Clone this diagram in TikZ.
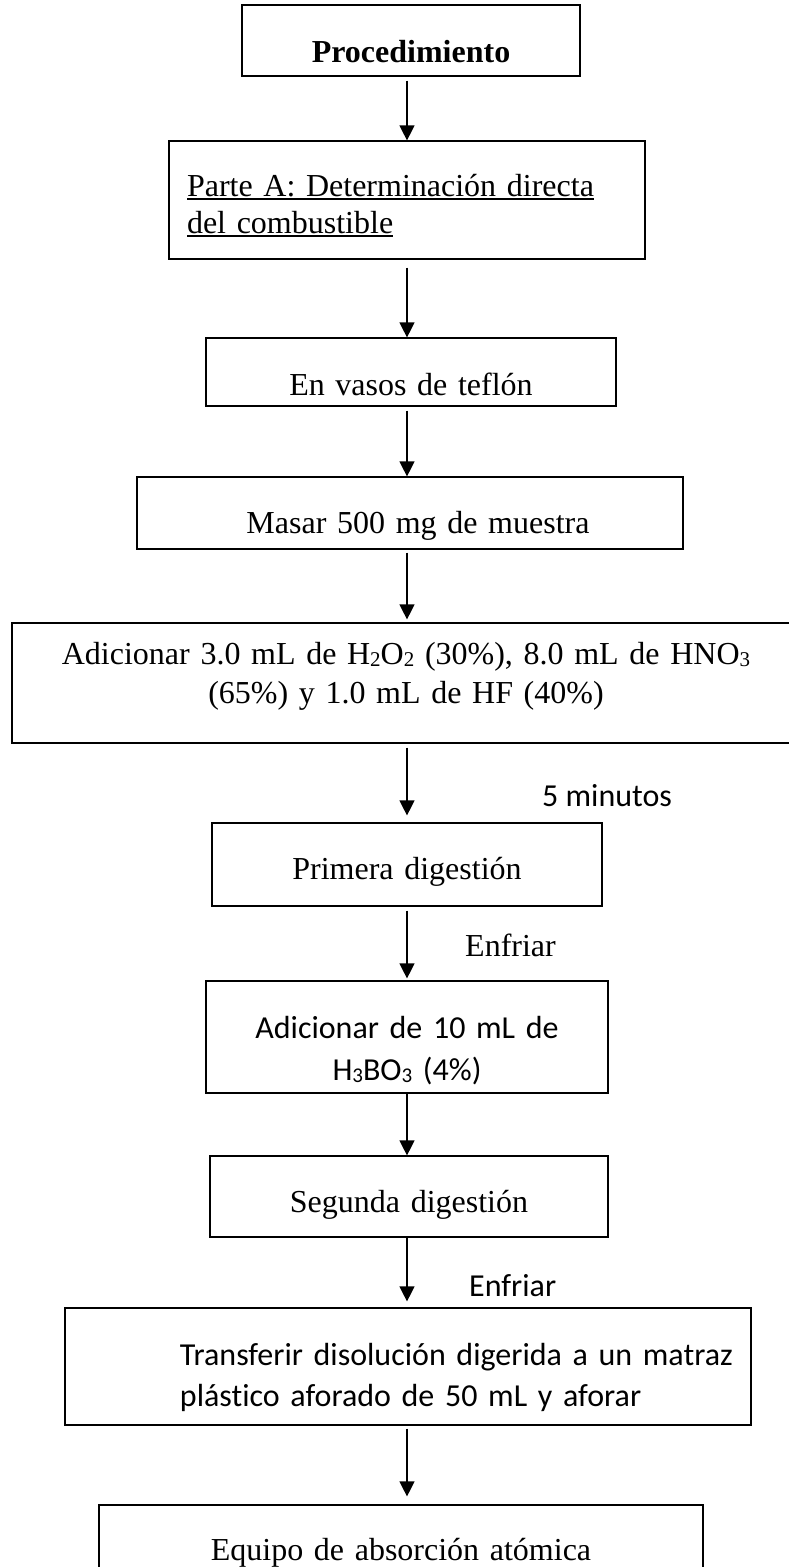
\documentclass[tikz,border=0pt]{standalone}
\usepackage{fontspec}
\setmainfont{Liberation Serif}
\newfontfamily\calibfont[Ligatures=NoCommon]{Carlito}
\usetikzlibrary{arrows.meta}
\newsavebox\ulbox
\newcommand{\myul}[1]{\sbox\ulbox{#1}\rlap{\rule[-4pt]{\wd\ulbox}{1.6pt}}\usebox\ulbox}
\newcommand{\sbs}[1]{\raisebox{-2.5pt}{\fontsize{21}{21}\selectfont #1}}
\begin{document}
\begin{tikzpicture}[x=1pt,y=-1pt,
  stepbox/.style={draw=black, line width=1.2pt, inner sep=0pt, align=center, anchor=base,
    font=\fontsize{32}{38}\selectfont},
  arr/.style={-{Triangle[width=15pt,length=15pt]}, line width=1.2pt},
  lbl/.style={inner sep=0pt, anchor=base west}]
\useasboundingbox (0,0) rectangle (788,1567);
\fill[white] (0,0) rectangle (788,1567);

\node[stepbox, text width=338pt, text height=57pt, text depth=14pt] (proc) at (411,62)
  {\textbf{Procedimiento}};
\node[stepbox, align=left, text width=476pt, text height=55pt, text depth=63pt,
  font=\fontsize{32}{37}\selectfont] (parteA) at (407,196)
  {\hspace*{18pt}\myul{Parte A: Determinación directa}\\\hspace*{18pt}\myul{del combustible}};
\node[stepbox, text width=410pt, text height=57pt, text depth=11pt] (vasos) at (411,395)
  {En vasos de teflón};
\node[stepbox, text width=546pt, text height=56pt, text depth=16pt] (masar) at (410,533)
  {\hspace*{16pt}Masar 500 mg de muestra};
\node[stepbox, text width=788pt, text height=41pt, text depth=79pt,
  font=\fontsize{32}{39}\selectfont] (adic) at (406,664)
  {Adicionar 3.0 mL de H\sbs{2}O\sbs{2} (30\%), 8.0 mL de HNO\sbs{3}\\(65\%) y 1.0 mL de HF (40\%)};
\node[stepbox, text width=390pt, text height=56pt, text depth=27pt] (prim) at (407,879)
  {Primera digestión};
\node[stepbox, text width=402pt, text height=57pt, text depth=55pt,
  font=\calibfont\fontsize{32}{42}\selectfont] (boric) at (407,1038)
  {Adicionar de 10 mL de\\H\sbs{3}BO\sbs{3} (4\%)};
\node[stepbox, text width=398pt, text height=56pt, text depth=25pt] (seg) at (409,1212)
  {Segunda digestión};
\node[stepbox, align=left, text width=686pt, text height=57pt, text depth=60pt,
  font=\calibfont\fontsize{32}{41}\selectfont] (transf) at (408,1365)
  {\hspace*{115pt}Transferir disolución digerida a un matraz\\\hspace*{115pt}plástico aforado de 50 mL y aforar};
\node[stepbox, text width=604pt, text height=55pt, text depth=50pt] (equipo) at (401,1560)
  {Equipo de absorción atómica};

\node[lbl, font=\calibfont\fontsize{32}{38}\selectfont] (cinco) at (542,806) {5 minutos};
\node[lbl, font=\fontsize{32}{38}\selectfont] (enf1) at (465,956) {Enfriar};
\node[lbl, font=\calibfont\fontsize{32}{38}\selectfont] (enf2) at (469,1296) {Enfriar};

\coordinate (col) at (407,0);
\draw[arr, shorten <=4pt] (proc.south -| col) -- (parteA.north -| col);
\draw[arr, shorten <=8pt] (parteA.south -| col) -- (vasos.north -| col);
\draw[arr, shorten <=4pt] (vasos.south -| col) -- (masar.north -| col);
\draw[arr, shorten <=3pt, shorten >=3pt] (masar.south -| col) -- (adic.north -| col);
\draw[arr, shorten <=4pt, shorten >=7pt] (adic.south -| col) -- (prim.north -| col);
\draw[arr, shorten <=4pt, shorten >=2pt] (prim.south -| col) -- (boric.north -| col);
\draw[arr] (boric.south -| col) -- (seg.north -| col);
\draw[arr, shorten >=6pt] (seg.south -| col) -- (transf.north -| col);
\draw[arr, shorten <=3pt, shorten >=8pt] (transf.south -| col) -- (equipo.north -| col);
\end{tikzpicture}
\end{document}
